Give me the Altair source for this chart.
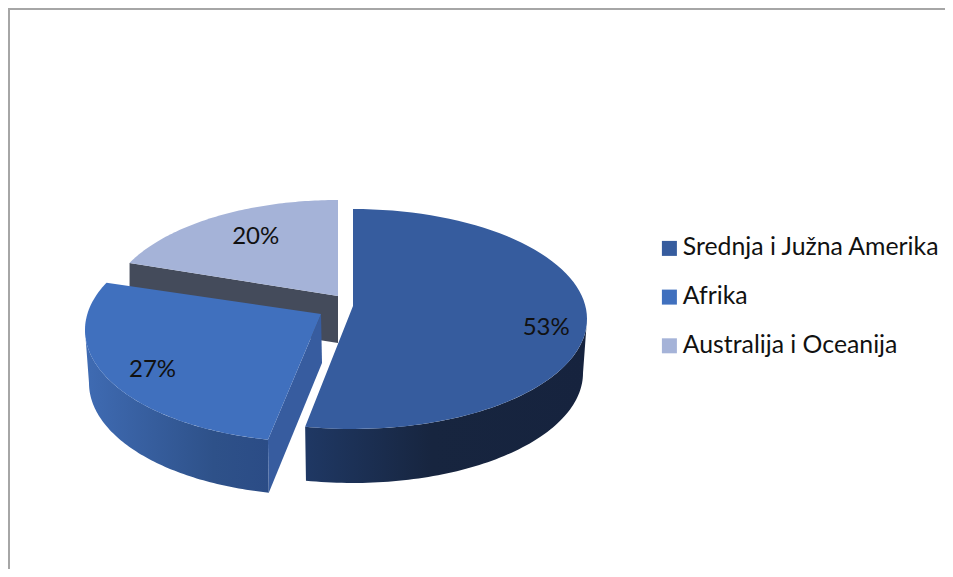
import altair as alt
import numpy as np
import pandas as pd

CATEGORIES = ["Srednja i Južna Amerika", "Afrika", "Australija i Oceanija"]
SHARES = [53, 27, 20]
LABELS = ["53%", "27%", "20%"]
TOP_COLORS = ["#365C9E", "#4070BE", "#A5B3D8"]

# perspective of the drawing: how much each slice boundary drifts, and where each slice sits
BOUNDARY_DRIFT = [0, 1, 7, 0]
TOP_ELLIPSE = [(353, 319, 234, 110), (315, 330, 230, 112), (338, 309, 230, 109)]
LOW_ELLIPSE = [(353, 373, 230, 110), (315, 383, 226, 112), (338, 356, 230, 109)]
APEX = [(353, 306), (321, 314), (338, 296)]
APEX_LOW = [(353, 359), (322, 363), (338, 343)]
LABEL_RADIUS = [0.83, 0.79, 0.75]
LABEL_TURN = [0, 0, 4]

bounds = np.concatenate([[0], np.cumsum(SHARES)]) * 3.6 + np.array(BOUNDARY_DRIFT)


def ellipse(e, a0, a1, n=80):
    t = np.radians(np.linspace(a0, a1, n))
    return np.column_stack([e[0] + e[2] * np.sin(t), e[1] - e[3] * np.cos(t)])


def table(points, name=""):
    return pd.DataFrame({"x": points[:, 0], "y": points[:, 1],
                         "i": np.arange(len(points)), "name": name})


tops = pd.concat([
    table(np.vstack([ellipse(TOP_ELLIPSE[i], bounds[i], bounds[i + 1]), [APEX[i]]]), CATEGORIES[i])
    for i in range(3)
])

main_wall = table(np.vstack([ellipse(TOP_ELLIPSE[0], 90, bounds[1]),
                             ellipse(LOW_ELLIPSE[0], bounds[1], 90)]))
afr_wall = table(np.vstack([ellipse(TOP_ELLIPSE[1], bounds[1], 270),
                            ellipse(LOW_ELLIPSE[1], 270, bounds[1])]))
afr_cut = table(np.vstack([ellipse(TOP_ELLIPSE[1], bounds[1], bounds[1], 1), [APEX[1]], [APEX_LOW[1]],
                           ellipse(LOW_ELLIPSE[1], bounds[1], bounds[1], 1)]))
aus_cut = table(np.vstack([ellipse(TOP_ELLIPSE[2], bounds[2], bounds[2], 1), [APEX[2]], [APEX_LOW[2]],
                           ellipse(LOW_ELLIPSE[2], bounds[2], bounds[2], 1)]))

label_rows = []
for i in range(3):
    mid = np.radians((bounds[i] + bounds[i + 1]) / 2 + LABEL_TURN[i])
    e = TOP_ELLIPSE[i]
    label_rows.append({"x": e[0] + LABEL_RADIUS[i] * e[2] * np.sin(mid),
                       "y": e[1] - LABEL_RADIUS[i] * e[3] * np.cos(mid),
                       "label": LABELS[i]})
labels = pd.DataFrame(label_rows)

X = alt.X("x:Q", scale=alt.Scale(domain=[8, 945], nice=False, zero=False), axis=None)
Y = alt.Y("y:Q", scale=alt.Scale(domain=[8, 569], nice=False, zero=False, reverse=True), axis=None)
ORDER = alt.Order("i:Q")


def grad(stops):
    return alt.Gradient(gradient="linear", x1=0, x2=1, y1=0, y2=0,
                        stops=[alt.GradientStop(offset=o, color=c) for o, c in stops])


def wall(df, fill):
    return alt.Chart(df).mark_line(filled=True, fill=fill, strokeWidth=0).encode(x=X, y=Y, order=ORDER)


FRAME = "#A6A6A6"
frame_top = alt.Chart(pd.DataFrame({"a": [0]})).mark_rule(color=FRAME, strokeWidth=2).encode(
    x=alt.value(0), x2=alt.value(937), y=alt.value(1))
frame_left = alt.Chart(pd.DataFrame({"a": [0]})).mark_rule(color=FRAME, strokeWidth=2).encode(
    x=alt.value(1), y=alt.value(0), y2=alt.value(561))

top_layer = alt.Chart(tops).mark_line(filled=True, strokeWidth=0).encode(
    x=X, y=Y, order=ORDER,
    color=alt.Color("name:N",
                    scale=alt.Scale(domain=CATEGORIES, range=TOP_COLORS),
                    sort=CATEGORIES,
                    legend=alt.Legend(title=None, orient="none", legendX=649, legendY=228,
                                      symbolType="square", symbolSize=225, symbolStrokeWidth=0,
                                      symbolOpacity=1, labelFont="Lato", labelFontSize=24.8,
                                      labelColor="#111111", labelOffset=1, labelLimit=320,
                                      rowPadding=22.7, padding=0)),
)

text_layer = alt.Chart(labels).mark_text(font="Lato", fontSize=24, color="#111111").encode(
    x=X, y=Y, text="label:N")

chart = alt.layer(
    frame_top, frame_left,
    wall(aus_cut, "#444B5B"),
    wall(afr_wall, grad([(0, "#3F6BB3"), (0.7, "#2E5189"), (1, "#2B4C86")])),
    wall(afr_cut, "#375C9F"),
    wall(main_wall, grad([(0, "#1F3864"), (0.45, "#17253F"), (1, "#16233E")])),
    top_layer,
    text_layer,
).properties(width=937, height=561, padding=0, background="white",
             autosize=alt.AutoSizeParams(type="none")
).configure_view(stroke=None)

chart.save("out.html", embed_options={"renderer": "svg", "actions": False})
